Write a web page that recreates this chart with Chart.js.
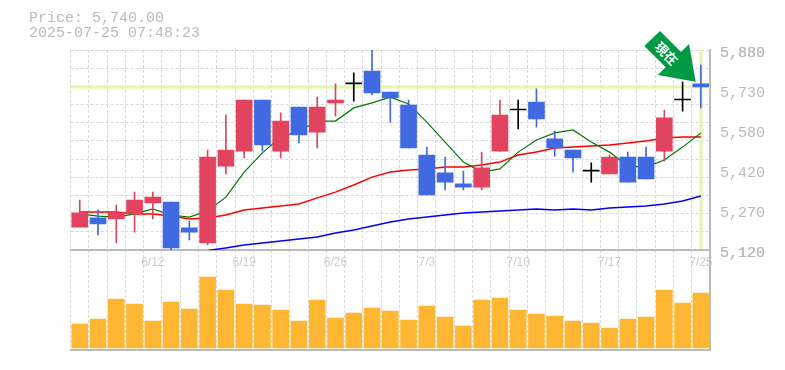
<!DOCTYPE html>
<html>
<head>
<meta charset="utf-8">
<style>
  html, body { margin: 0; background: #fff; }
  #wrap { position: relative; width: 785px; height: 370px; overflow: hidden; }
  #head { position: absolute; left: 29px; top: 11px; font: 15px/15px "Liberation Mono", monospace; color: #bbb; white-space: pre; }
  canvas { position: absolute; left: 0; top: 0; }
</style>
</head>
<body>
<div id="wrap">
  <canvas id="stockChart" width="785" height="370"></canvas>
  <div id="head">Price: 5,740.00
2025-07-25 07:48:23</div>
</div>
<script src="https://cdn.jsdelivr.net/npm/chart.js@4"></script>
<script>
const dates = ['6/6','6/9','6/10','6/11','6/12','6/13','6/16','6/17','6/18','6/19','6/20','6/23','6/24','6/25','6/26','6/27','6/30','7/1','7/2','7/3','7/4','7/7','7/8','7/9','7/10','7/11','7/14','7/15','7/16','7/17','7/18','7/22','7/23','7/24','7/25'];

const opens  = [5207,5242,5238,5257,5299,5302,5204,5147,5439,5496,5690,5496,5663,5568,5679,5751,5800,5720,5671,5481,5413,5371,5359,5496,5652,5682,5542,5500,5420,5409,5473,5473,5496,5690,5751];
const closes = [5261,5219,5261,5310,5321,5128,5188,5473,5500,5690,5519,5610,5557,5663,5690,5751,5717,5698,5508,5329,5378,5359,5432,5633,5652,5618,5508,5470,5420,5473,5378,5390,5622,5690,5740];
const highs  = [5310,5272,5291,5340,5340,5302,5230,5500,5633,5690,5690,5641,5663,5701,5751,5793,5880,5720,5690,5511,5473,5420,5492,5690,5690,5732,5572,5500,5451,5481,5492,5511,5652,5758,5823];
const lows   = [5207,5177,5147,5188,5238,5120,5158,5139,5409,5470,5496,5470,5527,5508,5629,5686,5709,5606,5508,5329,5348,5348,5348,5496,5580,5587,5477,5416,5378,5409,5378,5390,5458,5648,5660];

const maShort  = [5257,5249,5245,5257,5276,5253,5245,5268,5321,5416,5489,5549,5572,5610,5610,5660,5679,5701,5675,5606,5530,5454,5416,5428,5492,5538,5565,5576,5530,5492,5439,5435,5462,5511,5565];
const maMiddle = [5264,5264,5264,5257,5257,5249,5238,5242,5253,5272,5280,5287,5295,5318,5340,5367,5397,5416,5424,5428,5435,5435,5443,5454,5481,5492,5508,5511,5515,5519,5527,5534,5546,5549,5549];
const maLong   = [null,null,null,null,null,null,null,5118,5128,5139,5147,5154,5162,5169,5185,5196,5211,5226,5238,5245,5253,5261,5264,5268,5272,5276,5272,5276,5272,5280,5283,5287,5295,5306,5325];

const volumes = [24,29,49,44,27,46,39,71,58,44,43,38,27,48,30,35,40,37,28,42,31,22,48,50,38,34,32,27,25,20,29,31,58,45,55];

const priceTicks = [5880,5728,5576,5424,5272,5120];
const priceTickLabels = ['5,880','5,730','5,580','5,420','5,270','5,120'];
const lastPrice = 5740;

const UP = '#e2435f', DOWN = '#4169e1', FLAT = '#000';
const candleColor = opens.map((o, i) => closes[i] > o ? UP : closes[i] < o ? DOWN : FLAT);

// 11 dotted rows across the price panel, they do not line up with the labels
const gridTicks = [];
for (let i = 0; i <= 11; i++) gridTicks.push(5120 + i * 760 / 11);

// pale current price cross, sits under the candles
const priceCross = {
    id: 'priceCross',
    beforeDatasetsDraw(chart) {
        const { ctx, chartArea, scales } = chart;
        const py = Math.round(scales.y.getPixelForValue(lastPrice));
        const px = Math.round(scales.x.getPixelForValue(dates.length - 1));
        ctx.save();
        ctx.fillStyle = '#e4f5ab';
        ctx.fillRect(chartArea.left, py - 1.5, chartArea.width, 3);
        ctx.fillRect(px - 1.5, scales.y.top, 3, scales.y.bottom - scales.y.top - 1);
        ctx.restore();
    }
};

// green arrow badge in the top right corner
const badge = {
    id: 'badge',
    afterDraw(chart) {
        const ctx = chart.ctx;
        const pts = [[660,31],[681,52],[689,44],[695.7,81.7],[657.7,75],[665.7,67.3],[644.3,46]];
        ctx.save();
        ctx.fillStyle = '#009944';
        ctx.beginPath();
        pts.forEach((p, i) => i ? ctx.lineTo(p[0], p[1]) : ctx.moveTo(p[0], p[1]));
        ctx.closePath();
        ctx.fill();
        ctx.translate(666.5, 53.5);
        ctx.rotate(Math.PI / 4);
        ctx.fillStyle = '#fff';
        ctx.font = 'bold 13px "Noto Sans CJK JP"';
        ctx.textAlign = 'center';
        ctx.textBaseline = 'middle';
        ctx.fillText('現在', 0, 0);
        ctx.restore();
    }
};

new Chart(document.getElementById('stockChart'), {
    data: {
        labels: dates,
        datasets: [
            { type: 'bar', data: opens.map((o, i) => [o, closes[i]]), backgroundColor: candleColor, barThickness: 16, minBarLength: 1, grouped: false, order: 1, yAxisID: 'y' },
            { type: 'bar', data: lows.map((l, i) => [l, highs[i]]), backgroundColor: candleColor, barThickness: 1, grouped: false, order: 2, yAxisID: 'y' },
            { type: 'line', data: maShort, borderColor: '#007a00', borderWidth: 1.2, pointRadius: 0, tension: 0, order: 3, yAxisID: 'y' },
            { type: 'line', data: maMiddle, borderColor: '#f00', borderWidth: 1.5, pointRadius: 0, tension: 0, order: 4, yAxisID: 'y' },
            { type: 'line', data: maLong, borderColor: '#00f', borderWidth: 1.5, pointRadius: 0, tension: 0, order: 5, yAxisID: 'y' },
            { type: 'bar', data: volumes, backgroundColor: '#ffb733', barThickness: 16, grouped: false, order: 6, yAxisID: 'yVol' }
        ]
    },
    options: {
        responsive: false,
        animation: false,
        layout: { padding: { left: 70.6, top: 50, right: 0, bottom: 20 } },
        plugins: { legend: { display: false }, tooltip: { enabled: false }, title: { display: false } },
        scales: {
            x: {
                position: { y: 5120 },
                offset: true,
                grid: { offset: true, color: '#d8d8d8', drawTicks: false },
                border: { color: '#bbb', width: 2, dash: [3, 2] },
                ticks: {
                    autoSkip: false, maxRotation: 0, padding: 5, color: '#ccc',
                    font: { family: '"Liberation Sans"', size: 12 },
                    callback(value, index) { return index % 5 === 4 ? dates[index] : ''; }
                }
            },
            xBase: {
                type: 'category',
                position: 'bottom',
                labels: dates,
                afterFit(scale) { scale.height = 0; },
                grid: { display: false },
                ticks: { display: false },
                border: { color: '#bbb', width: 2 }
            },
            y: {
                position: 'right',
                stack: 'panels',
                stackWeight: 2,
                min: 5120,
                max: 5880,
                afterFit(scale) { scale.width = 75; },
                afterBuildTicks(scale) {
                    scale.ticks = gridTicks.concat(priceTicks).map(v => ({ value: v }));
                },
                grid: {
                    drawTicks: false,
                    color(ctx) { return gridTicks.includes(ctx.tick.value) ? '#d8d8d8' : 'rgba(0,0,0,0)'; }
                },
                border: { color: '#bbb', width: 2, dash: [3, 2] },
                ticks: {
                    autoSkip: false, padding: 10, labelOffset: 3, color: '#bbb',
                    font: { family: '"Liberation Mono"', size: 15 },
                    callback(value) {
                        const i = priceTicks.indexOf(value);
                        return i < 0 ? '' : priceTickLabels[i];
                    }
                }
            },
            yVol: {
                position: 'right',
                stack: 'panels',
                stackWeight: 1,
                min: -2,
                max: 98,
                afterFit(scale) { scale.width = 75; },
                grid: { display: false },
                border: { color: '#bbb', width: 2 },
                ticks: { display: false }
            }
        }
    },
    plugins: [priceCross, badge]
});
</script>
</body>
</html>
